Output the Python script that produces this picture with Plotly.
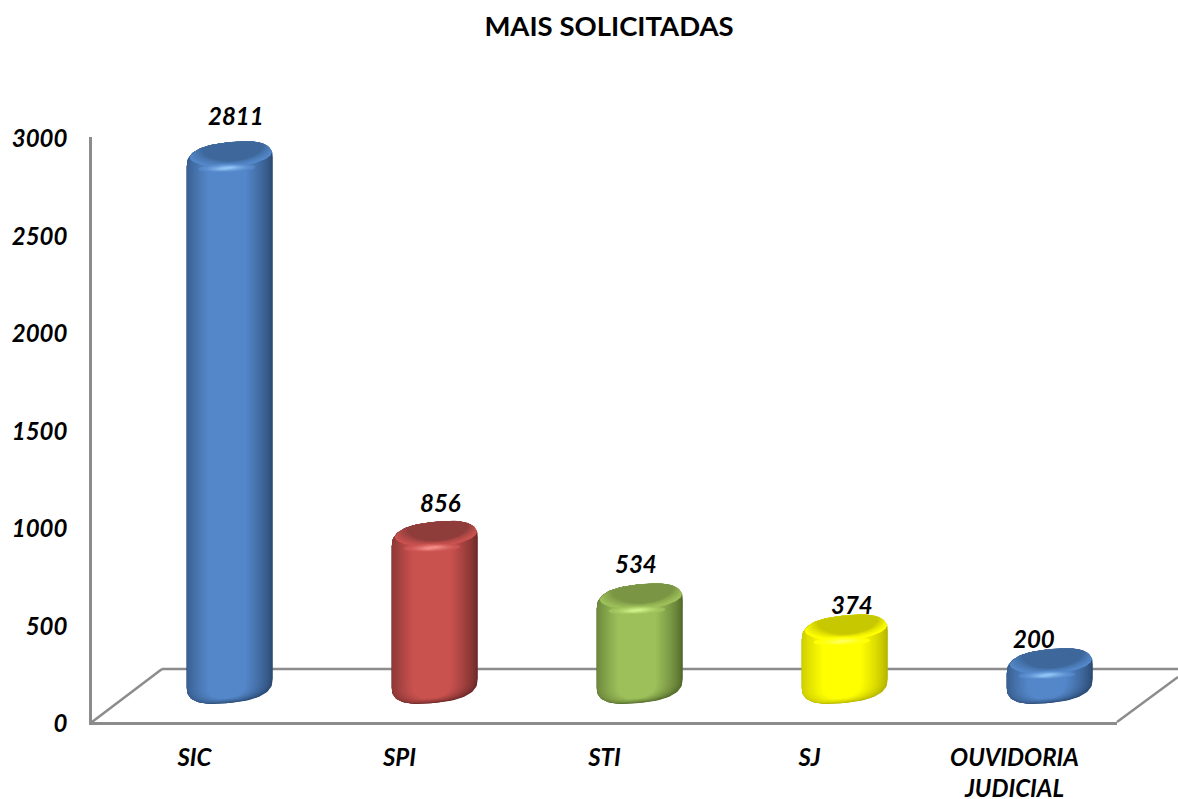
import numpy as np
import plotly.graph_objects as go

# ---------- data ----------
CATEGORIES = ["SIC", "SPI", "STI", "SJ", "OUVIDORIA<br>JUDICIAL"]
VALUES = [2811, 856, 534, 374, 200]
Y_TICKS = [0, 500, 1000, 1500, 2000, 2500, 3000]
TITLE = "MAIS SOLICITADAS"

# ---------- style ----------
BLUE = dict(edge="#2B4A73", center="#5487C9", cap="#3E689B", hi="#8FC2F5")
RED = dict(edge="#6B2A29", center="#C9524F", cap="#8E3D3B", hi="#F58C88")
GREEN = dict(edge="#526A2C", center="#9DC05A", cap="#7A9544", hi="#CFF088")
YELLOW = dict(edge="#B4B400", center="#FFFF00", cap="#C8C800", hi="#FFFF55")
BAR_STYLES = [BLUE, RED, GREEN, YELLOW, BLUE]
LABEL_XSHIFT = [6.5, 6, -4, 7, -15.5]
LABEL_YSHIFT = [34, 27, 28, 18.5, 18]

W, H = 1178, 799
AX_L, AX_R, AX_B, AX_T = 92, 1117, 722, 137   # front plane of the axes (px)
DEPTH_X, DEPTH_Y = 35.3, 26.5                 # bars stand in the middle of the floor
BAR_AXIS_TOP = 112.9                          # px of 3000 on the bars' plane
PX_Y = 3000 / (AX_B - DEPTH_Y - BAR_AXIS_TOP) # value units per pixel
PX_X = 5 / (AX_R - AX_L)                      # category units per pixel
HALF_W = 43                                   # bar half width, px
ARC_H = 20                                    # body end-arc height, px
TILT = 4.5                                    # rise to the right, px
ROUND = 2.6
FONT = "Lato, 'Open Sans', sans-serif"
GREY = "#8C8C8C"


def hex2rgb(c):
    return np.array([int(c[i:i + 2], 16) for i in (1, 3, 5)], float)


def mix(a, b, t):
    c = hex2rgb(a) * (1 - t) + hex2rgb(b) * t
    return "rgb(%d,%d,%d)" % tuple(np.round(c))


def superarc(start, stop, n=40):
    th = np.linspace(start, stop, n)
    c, s = np.cos(th), np.sin(th)
    return np.sign(c) * np.abs(c) ** (2 / ROUND), np.sign(s) * np.abs(s) ** (2 / ROUND)


def body_outline(i, value, left, right, inset_top, inset_bot):
    """Outline of a bar, offsets in px converted to the axis units."""
    cx = (right - left) / 2
    a = (right + left) / 2
    u1, w1 = superarc(np.pi, 0)
    u2, w2 = superarc(0, -np.pi)
    xp = np.r_[cx + a * u1, cx + a * u2]
    tilt = xp / HALF_W * TILT
    top = -12.5 + (ARC_H - inset_top) * w1
    bot = 12.5 + (ARC_H - inset_bot) * w2
    x = i + xp * PX_X
    y = np.r_[value + (top + tilt[:40]) * PX_Y, (bot + tilt[40:]) * PX_Y]
    return np.r_[x, x[0]], np.r_[y, y[0]]


def top_edge(xp):
    u = np.clip(np.abs(xp) / HALF_W, 0, 1)
    return -12.5 + ARC_H * (1 - u ** ROUND) ** (1 / ROUND) + TILT * xp / HALF_W


def top_face(i, value, dx, a, depth):
    """Lens: upper side follows the bar's top edge, lower side is an arc."""
    s = np.linspace(-1, 1, 61)
    xp = dx + a * s
    upper = top_edge(xp) - 0.3
    chord = upper[0] + (upper[-1] - upper[0]) * (s + 1) / 2
    lower = chord - depth * np.sqrt(1 - s ** 2)
    x = i + np.r_[xp, xp[::-1], xp[0]] * PX_X
    y = value + np.r_[upper, lower[::-1], upper[0]] * PX_Y
    return x, y


def blob(i, value, dx, dy, a, h, tilt):
    th = np.linspace(0, 2 * np.pi, 61)
    u, w = np.cos(th), np.sin(th)
    x = i + (dx + a * u) * PX_X
    y = value + (dy + h * w + tilt * u) * PX_Y
    return x, y


fig = go.Figure()

# bars with the real values (sit under the shaded surface)
fig.add_trace(go.Bar(
    x=list(range(len(VALUES))), y=VALUES, width=0.25,
    marker=dict(color=[s["center"] for s in BAR_STYLES], line_width=0),
    xaxis="x2", yaxis="y2", hoverinfo="skip", showlegend=False))


def add_fill(x, y, color):
    fig.add_trace(go.Scatter(
        x=x, y=y, mode="lines", fill="toself", fillcolor=color,
        line=dict(width=0), xaxis="x2", yaxis="y2",
        hoverinfo="skip", showlegend=False))


N_BODY, N_CAP, N_HI = 18, 9, 8
T0 = 0.28
for i, (val, st) in enumerate(zip(VALUES, BAR_STYLES)):
    # body: nested outlines, dark rim to light centre
    for k in range(N_BODY):
        t = k / (N_BODY - 1)
        dl = max(0, t - T0) / (1 - T0) * 0.48 * HALF_W
        dr = t * 0.62 * HALF_W
        col = mix(st["edge"], st["center"], t ** 0.75)
        x, y = body_outline(i, val, HALF_W - dl, HALF_W - dr, t * 1.0, t * 5)
        add_fill(x, y, col)
    # top face: soft darker lens merging with the top edge
    for k in range(N_CAP):
        t = k / (N_CAP - 1)
        col = mix(st["center"], st["cap"], t ** 0.85)
        x, y = top_face(i, val, 1 + 2 * t, HALF_W * (0.96 - 0.24 * t), 12.5 + 2.5 * t)
        add_fill(x, y, col)
    # highlight under the front lip of the top face
    for k in range(N_HI):
        t = k / (N_HI - 1)
        col = mix(st["center"], st["hi"], t ** 1.4)
        x, y = blob(i, val, -3, -18.5, HALF_W * (0.66 - 0.5 * t), 4.5 - 3.2 * t, 0.8)
        add_fill(x, y, col)

# value labels
annotations = [
    dict(x=i, y=v, xref="x2", yref="y2", text=str(v), showarrow=False,
         xshift=LABEL_XSHIFT[i], yshift=LABEL_YSHIFT[i],
         font=dict(family=FONT, size=24, color="black", weight="bold", style="italic"))
    for i, v in enumerate(VALUES)
]


def px(x):
    return x / W


def py(y):
    return 1 - y / H


# floor outline
FLOOR_LINES = [
    ((AX_L, AX_B), (162, 669)),
    ((162, 669), (1178, 669)),
    ((AX_R, AX_B), (1178, 677)),
]
shapes = [
    dict(type="line", xref="paper", yref="paper", layer="below",
         x0=px(a[0]), y0=py(a[1]), x1=px(b[0]), y1=py(b[1]),
         line=dict(color=GREY, width=2.5))
    for a, b in FLOOR_LINES
]

tick_font = dict(family=FONT, size=24, color="black", weight="bold", style="italic")
y2_low = -(730 - (AX_B - DEPTH_Y)) * PX_Y

fig.update_layout(
    width=W, height=H, autosize=False,
    margin=dict(l=0, r=0, t=0, b=0, autoexpand=False),
    paper_bgcolor="white", plot_bgcolor="rgba(0,0,0,0)",
    barmode="overlay", showlegend=False,
    title=dict(text=TITLE, x=609 / W, xanchor="center", y=py(26), yanchor="middle",
               font=dict(family=FONT, size=27.5, color="black", weight="bold")),
    shapes=shapes, annotations=annotations,
    xaxis=dict(domain=[px(AX_L), px(AX_R)], range=[-0.5, 4.5],
               tickmode="array", tickvals=list(range(5)), ticktext=CATEGORIES,
               showgrid=False, zeroline=False, showline=True, linecolor=GREY, linewidth=2.5,
               ticks="", ticklabelstandoff=12, tickfont=tick_font, fixedrange=True),
    yaxis=dict(domain=[py(AX_B), py(AX_T)], range=[0, 3000],
               tickmode="array", tickvals=Y_TICKS,
               showgrid=False, zeroline=False, showline=True, linecolor=GREY, linewidth=2.5,
               ticks="", ticklabelstandoff=17, ticklabelshift=2, tickfont=tick_font, fixedrange=True),
    xaxis2=dict(domain=[px(AX_L + DEPTH_X), px(AX_R + DEPTH_X)], range=[-0.5, 4.5],
                anchor="y2", visible=False, fixedrange=True),
    yaxis2=dict(domain=[py(730), py(BAR_AXIS_TOP)], range=[y2_low, 3000],
                anchor="x2", visible=False, fixedrange=True),
)
# keeps the primary axes drawn (a trace has to live on them)
fig.add_trace(go.Bar(x=[0], y=[0], xaxis="x", yaxis="y", hoverinfo="skip",
                     showlegend=False, marker_opacity=0))

fig.write_html("out.html", config=dict(displayModeBar=False),
               post_script="document.body.style.margin='0';document.body.style.overflow='hidden';")
